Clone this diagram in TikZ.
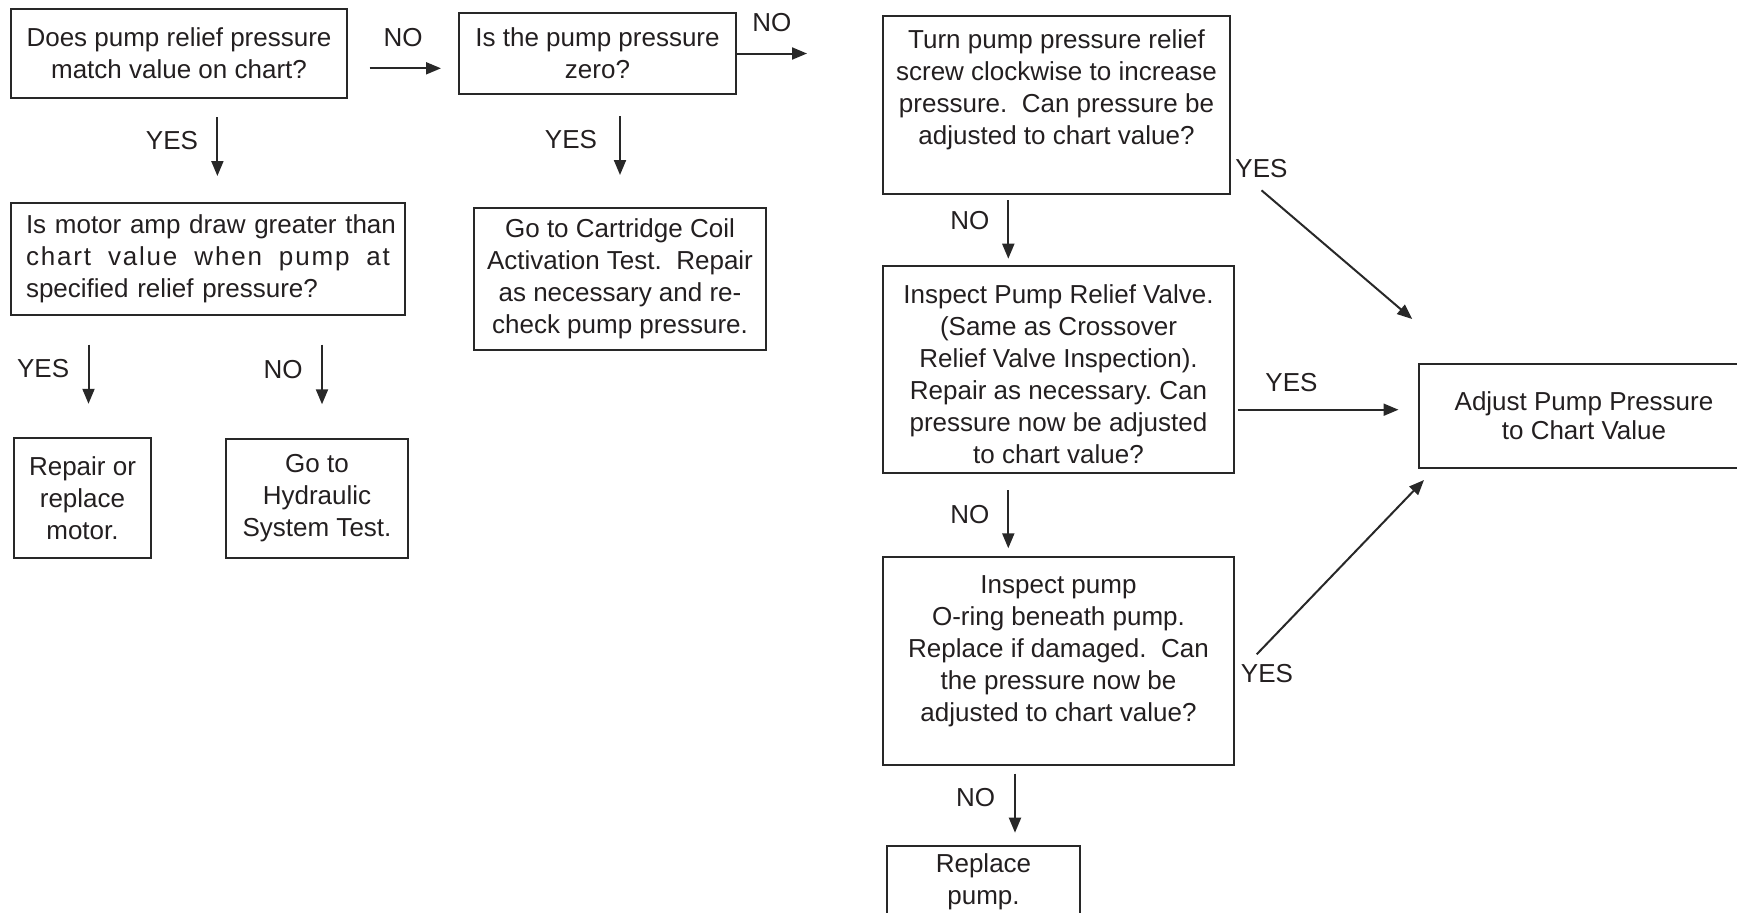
\documentclass[tikz,border=0pt]{standalone}
\usepackage{fontspec}
\setmainfont{Liberation Sans}
\usepackage{xcolor}
\usepackage{tikz}
\definecolor{clrLine}{RGB}{40,40,40}
\definecolor{clrText}{RGB}{35,31,32}
\usetikzlibrary{arrows.meta,positioning}

\begin{document}
\begin{tikzpicture}[
  every node/.style = {font=\fontsize{13pt}{16pt}\selectfont\frenchspacing,
                       text=clrText},
  %--- node styles ---------------------------------------------------
  boxst/.style  = {draw=clrLine, line width=1pt, rectangle,
                   align=center, inner sep=4pt},
  lblst/.style  = {inner sep=0pt},
  arr/.style    = {-{Triangle[length=7.5pt,width=6pt]}, line width=1pt,
                   draw=clrLine},
]

\useasboundingbox (0,0) rectangle (868.5pt,-456pt);

% ---- Nodes --------------------------------------------------------
\node[boxst, minimum width=168pt, minimum height=44.5pt] (q1) at (89.5pt,-26.75pt)
    {Does pump relief pressure\\ match value on chart?};

\node[boxst, minimum width=138.5pt, minimum height=40.5pt, right=55pt of q1] (q2)
    {Is the pump pressure\\ zero?};

\node[boxst, minimum width=197pt, minimum height=56pt, text width=182pt, align=left,
      below=51.5pt of q1.south west, anchor=north west] (q3)
    {\mbox{Is motor amp draw greater than}\\
     \makebox[182pt][l]{\addfontfeature{LetterSpace=7}%
       chart\hfill value\hfill when\hfill pump\hfill at}\\
     specified relief pressure?};

\node[boxst, minimum width=68.5pt, minimum height=60pt,
      below=60.5pt of q3.south west, anchor=north west, xshift=1.5pt] (m1)
    {Repair or\\ replace\\ motor.};

\node[boxst, minimum width=91pt, minimum height=59.5pt, right=36.5pt of m1] (m2)
    {Go to\\ Hydraulic\\ System Test.};

\node[boxst, minimum width=146pt, minimum height=71pt,
      below=56pt of q2, xshift=11.25pt] (c1)
    {Go to Cartridge Coil\\ Activation Test.\ \ Repair\\
     as necessary and re-\\ check pump pressure.};

\node[boxst, minimum width=173.5pt, minimum height=89pt,
      right=72.5pt of q2.north east, anchor=north west, yshift=-1.5pt] (p1)
    {Turn pump pressure relief\\ screw clockwise to increase\\
     pressure.\ \ Can pressure be\\ adjusted to chart value?\\[1.5pt]\mbox{}};

\node[boxst, minimum width=175.5pt, minimum height=103.5pt,
      below=35pt of p1.south west, anchor=north west] (p2)
    {\rule{0pt}{14.5pt}Inspect Pump Relief Valve.\\ (Same as Crossover\\
     Relief Valve Inspection).\\ Repair as necessary. Can\\
     pressure now be adjusted\\ to chart value?};

\node[boxst, minimum width=175.5pt, minimum height=104pt,
      below=41pt of p2.south west, anchor=north west] (p3)
    {Inspect pump\\ O-ring beneath pump.\\ Replace if damaged.\ \ Can\\
     the pressure now be\\ adjusted to chart value?\\[-3.5pt]\mbox{}};

\node[boxst, minimum width=96.5pt, minimum height=36pt,
      below=39.5pt of p3.south west, anchor=north west, xshift=2pt] (p4)
    {Replace\\ pump.};

\node[boxst, minimum width=165pt, minimum height=52pt,
      font=\fontsize{13pt}{14.5pt}\selectfont,
      right=91.5pt of p2, yshift=-23.25pt] (adj)
    {Adjust Pump Pressure\\ to Chart Value};

% ---- Arrows -------------------------------------------------------
\draw[arr, shorten <=10.75pt, shorten >=8.5pt]
    ([yshift=-7.4pt]q1.east) -- ([yshift=-7.4pt]q1.east -| q2.west)
    node[lblst, midway, above=10.5pt] (no1) {NO};

\draw[arr, shorten <=9pt, shorten >=13pt]
    ([xshift=19.2pt]q1.south) -- ([xshift=19.2pt]q1.south |- q3.north)
    node[lblst, midway, left=9.2pt, yshift=4.75pt] (yes1) {YES};

\draw[arr, shorten >=37.5pt]
    (q2.east) -- (q2.east -| p1.west)
    node[lblst, pos=0.24, above=10.3pt] (no2) {NO};

\draw[arr, shorten <=10.5pt, shorten >=16pt]
    (c1.north |- q2.south) -- (c1.north)
    node[lblst, midway, left=11pt, yshift=5.5pt] (yes2) {YES};

\draw[arr, shorten <=14.3pt, shorten >=16.6pt]
    ([xshift=3pt]m1.north |- q3.south) -- ([xshift=3pt]m1.north)
    node[lblst, midway, left=9.2pt, yshift=3.75pt] (yes3) {YES};

\draw[arr, shorten <=14.3pt, shorten >=16.6pt]
    ([xshift=2.5pt]m2.north |- q3.south) -- ([xshift=2.5pt]m2.north)
    node[lblst, midway, left=9.2pt, yshift=3.75pt] (no3) {NO};

\draw[arr, shorten <=2.65pt, shorten >=3.15pt]
    ([xshift=-25.1pt]p2.north |- p1.south) -- ([xshift=-25.1pt]p2.north)
    node[lblst, midway, left=9pt, yshift=4.75pt] (no4) {NO};

\draw[arr, shorten <=8pt, shorten >=3.85pt]
    ([xshift=-25.1pt]p3.north |- p2.south) -- ([xshift=-25.1pt]p3.north)
    node[lblst, midway, left=9pt] (no5) {NO};

\draw[arr, shorten <=3.85pt, shorten >=6.15pt]
    ([xshift=15.75pt]p4.north |- p3.south) -- ([xshift=15.75pt]p4.north)
    node[lblst, midway, left=9.4pt, yshift=3.75pt] (no6) {NO};

\draw[arr, shorten <=1.25pt, shorten >=9.75pt]
    ([yshift=3.15pt]adj.west -| p2.east) -- ([yshift=3.15pt]adj.west)
    node[lblst, midway, above=8.7pt, xshift=-17.5pt] (yes4) {YES};

\draw[arr] ([shift={(15.25pt,2.35pt)}]p1.south east)
    -- ([shift={(-2.9pt,22pt)}]adj.north west)
    node[lblst, at start, above=5.75pt] (yes5) {YES};

\draw[arr] ([shift={(10.85pt,3.35pt)}]p3.east)
    -- ([shift={(3pt,-5.5pt)}]adj.south west)
    node[lblst, at start, below=4.7pt, xshift=5.15pt] (yes6) {YES};

\end{tikzpicture}
\end{document}
